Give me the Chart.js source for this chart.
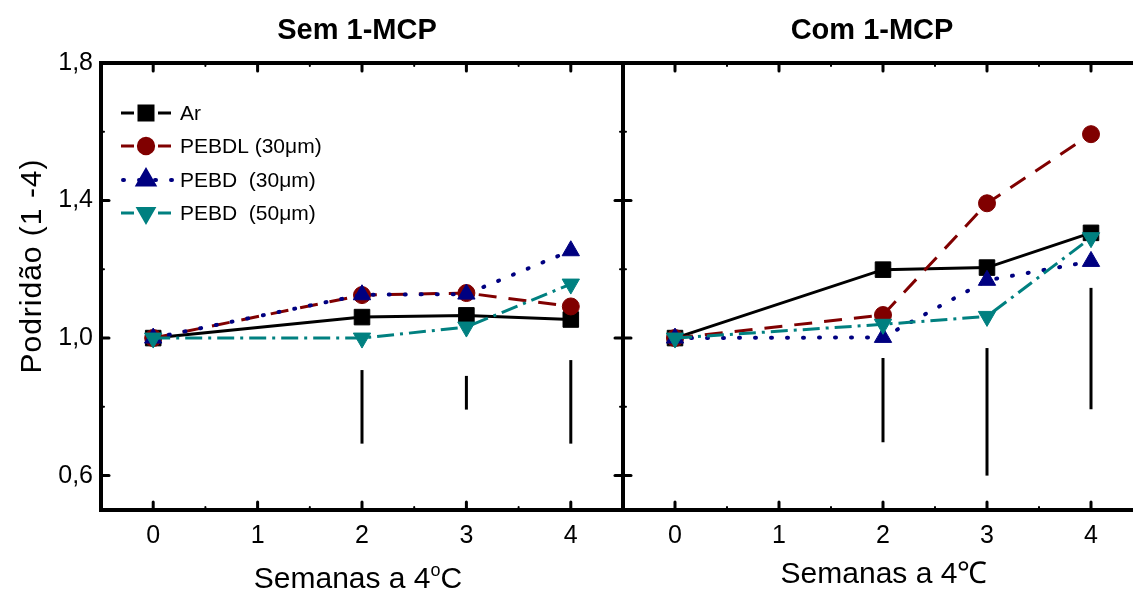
<!DOCTYPE html>
<html>
<head>
<meta charset="utf-8">
<script src="https://cdn.jsdelivr.net/npm/chart.js@4.4.1/dist/chart.umd.min.js"></script>
<style>
    body { margin: 0; width: 1133px; height: 590px; overflow: hidden; background: #fff; position: relative; }
    canvas { position: absolute; top: 0; }
    #semChart { left: 0; }
    #comChart { left: 600px; }
</style>
</head>
<body>
<canvas id="semChart" width="640" height="590"></canvas>
<canvas id="comChart" width="560" height="590"></canvas>
<script>
const weeks = [0, 2, 3, 4];
const seriesNames = ['Ar', 'PEBDL (30μm)', 'PEBD  (30μm)', 'PEBD  (50μm)'];

// Sem 1-MCP
const semAr = [1.0, 1.061, 1.066, 1.054];
const semPebdl30 = [1.0, 1.125, 1.131, 1.092];
const semPebd30 = [1.0, 1.126, 1.128, 1.254];
const semPebd50 = [1.0, 1.0, 1.032, 1.157];

// Com 1-MCP
const comAr = [1.0, 1.199, 1.205, 1.306];
const comPebdl30 = [1.0, 1.067, 1.392, 1.593];
const comPebd30 = [1.0, 1.002, 1.168, 1.223];
const comPebd50 = [1.0, 1.040, 1.063, 1.292];

// LSD bars
const lsdWeeks = [2, 3, 4];
const semLsdLow = [0.693, 0.792, 0.693];
const semLsdHigh = [0.907, 0.890, 0.936];
const comLsdLow = [0.697, 0.600, 0.793];
const comLsdHigh = [0.942, 0.971, 1.146];

const xTicks = [0, 1, 2, 3, 4];
const xMinorTicks = [0.5, 1.5, 2.5, 3.5];
const yTicks = [0.6, 1.0, 1.4, 1.8];
const yMinorTicks = [0.8, 1.2, 1.6];

const FONT = "'Liberation Sans', Arial, Helvetica, sans-serif";

const seriesStyles = [
    { color: '#000000', dash: [], width: 3, style: 'rect', radius: 11, rotation: 0, cap: 'butt' },
    { color: '#800000', dash: [18, 12], width: 3, style: 'circle', radius: 8.5, rotation: 0, cap: 'butt' },
    { color: '#000080', dash: [1, 15], width: 4, style: 'triangle', radius: 10, rotation: 0, cap: 'round' },
    { color: '#008080', dash: [17, 6, 3, 6], width: 3, style: 'triangle', radius: 10, rotation: 180, cap: 'butt' }
];

function buildDatasets(seriesList) {
    return seriesList.map((values, i) => {
        const s = seriesStyles[i];
        return {
            label: seriesNames[i],
            data: weeks.map((w, j) => ({ x: w, y: values[j] })),
            showLine: true,
            borderColor: s.color,
            backgroundColor: s.color,
            borderWidth: s.width,
            borderDash: s.dash,
            borderCapStyle: s.cap,
            pointStyle: s.style,
            pointRadius: s.radius,
            pointRotation: s.rotation,
            pointBorderWidth: 1,
            pointBorderColor: s.color,
            pointBackgroundColor: s.color,
            order: 4 - i
        };
    });
}

// frame, inward ticks and LSD bars
function framePlugin(lsdLow, lsdHigh) {
    return {
        id: 'frame',
        afterDatasetsDraw(chart) {
            const ctx = chart.ctx;
            const xs = chart.scales.x, ys = chart.scales.y;
            ctx.save();
            ctx.strokeStyle = '#000';
            ctx.lineWidth = 3;
            ctx.lineCap = 'butt';
            ctx.setLineDash([]);
            lsdWeeks.forEach((w, i) => {
                const px = xs.getPixelForValue(w);
                ctx.beginPath();
                ctx.moveTo(px, ys.getPixelForValue(lsdHigh[i]));
                ctx.lineTo(px, ys.getPixelForValue(lsdLow[i]));
                ctx.stroke();
            });
            ctx.restore();
        },
        afterDraw(chart) {
            const ctx = chart.ctx;
            const { left, right, top, bottom } = chart.chartArea;
            const xs = chart.scales.x, ys = chart.scales.y;
            ctx.save();
            ctx.strokeStyle = '#000';
            ctx.lineCap = 'round';
            ctx.lineWidth = 3;
            const tick = (x1, y1, x2, y2) => { ctx.beginPath(); ctx.moveTo(x1, y1); ctx.lineTo(x2, y2); ctx.stroke(); };
            xTicks.forEach(v => {
                const px = xs.getPixelForValue(v);
                tick(px, bottom, px, bottom - 8);
                tick(px, top, px, top + 8);
            });
            yTicks.forEach(v => {
                const py = ys.getPixelForValue(v);
                tick(left, py, left + 8, py);
                tick(right, py, right - 8, py);
            });
            ctx.lineWidth = 2;
            xMinorTicks.forEach(v => {
                const px = xs.getPixelForValue(v);
                tick(px, bottom, px, bottom - 3);
                tick(px, top, px, top + 3);
            });
            yMinorTicks.forEach(v => {
                const py = ys.getPixelForValue(v);
                tick(left, py, left + 3, py);
                tick(right, py, right - 3, py);
            });
            ctx.lineCap = 'square';
            ctx.lineWidth = 4;
            ctx.strokeRect(left, top, right - left, bottom - top);
            ctx.restore();
        }
    };
}

function textPlugin(title, titleX, xTitle, xTitleX, xTitleY, withYTitle) {
    return {
        id: 'texts',
        afterDraw(chart) {
            const ctx = chart.ctx;
            ctx.save();
            ctx.fillStyle = '#000';
            ctx.textBaseline = 'alphabetic';
            ctx.textAlign = 'center';
            ctx.font = 'bold 29px ' + FONT;
            ctx.fillText(title, titleX, 39);

            ctx.font = '30px ' + FONT;
            if (xTitle.sup) {
                const a = xTitle.before, b = xTitle.after;
                ctx.font = '30px ' + FONT;
                const wa = ctx.measureText(a).width, wb = ctx.measureText(b).width;
                ctx.font = '18px ' + FONT;
                const ws = ctx.measureText(xTitle.sup).width;
                const total = wa + ws + wb;
                let x0 = xTitleX - total / 2;
                ctx.textAlign = 'left';
                ctx.font = '30px ' + FONT;
                ctx.fillText(a, x0, xTitleY);
                ctx.font = '18px ' + FONT;
                ctx.fillText(xTitle.sup, x0 + wa, xTitleY - 12);
                ctx.font = '30px ' + FONT;
                ctx.fillText(b, x0 + wa + ws, xTitleY);
            } else {
                ctx.fillText(xTitle.text, xTitleX, xTitleY);
            }

            if (withYTitle) {
                ctx.translate(41, 266);
                ctx.rotate(-Math.PI / 2);
                ctx.textAlign = 'center';
                ctx.font = '30px ' + FONT;
                ctx.letterSpacing = '1px';
                ctx.fillText('Podridão (1 -4)', 0, 0);
            }
            ctx.restore();
        }
    };
}

const legendPlugin = {
    id: 'insideLegend',
    afterDraw(chart) {
        const ctx = chart.ctx;
        const rowsY = [113, 146, 180, 213];
        ctx.save();
        chart.data.datasets.forEach((ds, i) => {
            const s = seriesStyles[i];
            const y = rowsY[i];
            ctx.strokeStyle = s.color;
            ctx.fillStyle = s.color;
            ctx.lineWidth = s.width;
            ctx.lineCap = s.cap;
            ctx.setLineDash(i === 2 ? [1, 15] : []);
            ctx.beginPath();
            if (i === 2) {
                ctx.moveTo(123, y); ctx.lineTo(172, y);
            } else {
                ctx.moveTo(121, y); ctx.lineTo(134, y);
                ctx.moveTo(158, y); ctx.lineTo(171, y);
            }
            ctx.stroke();
            ctx.setLineDash([]);
            Chart.helpers.drawPoint(ctx, {
                pointStyle: s.style,
                radius: s.radius * 0.9,
                rotation: s.rotation,
                borderWidth: 1
            }, 146, y);
            ctx.fillStyle = '#000';
            ctx.font = '21px ' + FONT;
            ctx.textAlign = 'left';
            ctx.textBaseline = 'middle';
            ctx.fillText(ds.label, 180, y + 1);
        });
        ctx.restore();
    }
};

function makeChart(canvasId, seriesList, opts) {
    return new Chart(document.getElementById(canvasId), {
        type: 'scatter',
        data: { datasets: buildDatasets(seriesList) },
        options: {
            responsive: false,
            animation: false,
            layout: { padding: { top: 63, right: 17, left: 0, bottom: 0 } },
            plugins: { legend: { display: false }, tooltip: { enabled: false } },
            scales: {
                x: {
                    type: 'linear',
                    min: -0.5,
                    max: 4.5,
                    afterBuildTicks: scale => { scale.ticks = xTicks.map(v => ({ value: v })); },
                    afterFit: scale => { scale.height = 80; },
                    grid: { display: false, drawTicks: false },
                    border: { display: false },
                    ticks: {
                        color: '#000',
                        padding: 11,
                        maxRotation: 0,
                        font: { family: FONT, size: 25 },
                        callback: v => String(v)
                    }
                },
                y: {
                    min: 0.5,
                    max: 1.8,
                    afterBuildTicks: scale => { scale.ticks = yTicks.map(v => ({ value: v })); },
                    afterFit: scale => { scale.width = opts.yWidth; },
                    grid: { display: false, drawTicks: false },
                    border: { display: false },
                    ticks: {
                        display: opts.showYLabels,
                        color: '#000',
                        padding: 8,
                        font: { family: FONT, size: 25 },
                        callback: v => v.toFixed(1).replace('.', ',')
                    }
                }
            }
        },
        plugins: opts.plugins
    });
}

makeChart('semChart', [semAr, semPebdl30, semPebd30, semPebd50], {
    yWidth: 101,
    showYLabels: true,
    plugins: [
        framePlugin(semLsdLow, semLsdHigh),
        textPlugin('Sem 1-MCP', 357, { before: 'Semanas a 4', sup: 'o', after: 'C' }, 358, 588, true),
        legendPlugin
    ]
});

makeChart('comChart', [comAr, comPebdl30, comPebd30, comPebd50], {
    yWidth: 23,
    showYLabels: false,
    plugins: [
        framePlugin(comLsdLow, comLsdHigh),
        textPlugin('Com 1-MCP', 272, { text: 'Semanas a 4℃' }, 284, 583, false)
    ]
});
</script>
</body>
</html>
